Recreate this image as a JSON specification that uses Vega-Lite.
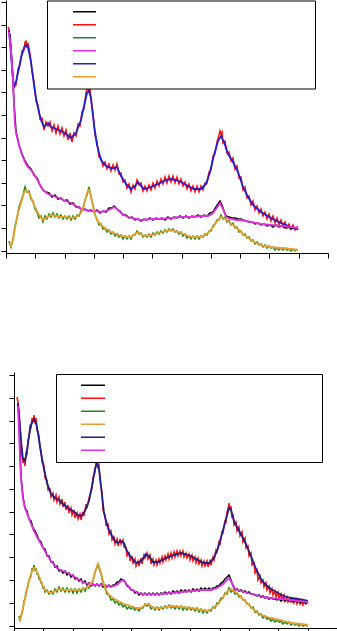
{
"$schema":"https://vega.github.io/schema/vega-lite/v6.json",
"background":"white",
"padding":0,
"spacing":113,
"config":{"view":{"stroke":null},"axis":{"grid":false,"labels":false,"title":null,"domainColor":"black","tickColor":"black","tickSize":5,"domainWidth":1,"tickWidth":1}},
"resolve":{"scale":{"color":"independent","x":"independent","y":"independent"},"legend":{"color":"independent"}},
"datasets":{
"top":[
{"s":"s5","x":3,"y":223},{"s":"s5","x":5,"y":198},{"s":"s5","x":7,"y":175},{"s":"s5","x":8,"y":167},{"s":"s5","x":10,"y":171},{"s":"s5","x":13,"y":185},{"s":"s5","x":15,"y":195},{"s":"s5","x":18,"y":205},{"s":"s5","x":20,"y":208},{"s":"s5","x":22,"y":206},{"s":"s5","x":25,"y":191},{"s":"s5","x":28,"y":168},{"s":"s5","x":30,"y":155},{"s":"s5","x":32,"y":145},{"s":"s5","x":35,"y":133},{"s":"s5","x":38,"y":126},{"s":"s5","x":40,"y":128},{"s":"s5","x":42,"y":130},{"s":"s5","x":45,"y":126},{"s":"s5","x":50,"y":124},{"s":"s5","x":55,"y":122},{"s":"s5","x":60,"y":119},{"s":"s5","x":65,"y":115},{"s":"s5","x":70,"y":120},{"s":"s5","x":75,"y":133},{"s":"s5","x":78,"y":147},{"s":"s5","x":81,"y":160},{"s":"s5","x":83,"y":162},{"s":"s5","x":85,"y":155},{"s":"s5","x":88,"y":128},{"s":"s5","x":91,"y":108},{"s":"s5","x":95,"y":93},{"s":"s5","x":100,"y":87},{"s":"s5","x":105,"y":85},{"s":"s5","x":108,"y":85},{"s":"s5","x":111,"y":86},{"s":"s5","x":115,"y":77},{"s":"s5","x":120,"y":69},{"s":"s5","x":125,"y":64},{"s":"s5","x":129,"y":67},{"s":"s5","x":132,"y":71},{"s":"s5","x":135,"y":67},{"s":"s5","x":138,"y":64},{"s":"s5","x":145,"y":66},{"s":"s5","x":152,"y":69},{"s":"s5","x":160,"y":73},{"s":"s5","x":165,"y":74},{"s":"s5","x":170,"y":73},{"s":"s5","x":175,"y":71},{"s":"s5","x":182,"y":67},{"s":"s5","x":188,"y":64},{"s":"s5","x":195,"y":64},{"s":"s5","x":200,"y":69},{"s":"s5","x":204,"y":81},{"s":"s5","x":208,"y":98},{"s":"s5","x":212,"y":112},{"s":"s5","x":215,"y":117},{"s":"s5","x":218,"y":111},{"s":"s5","x":222,"y":99},{"s":"s5","x":227,"y":91},{"s":"s5","x":232,"y":81},{"s":"s5","x":237,"y":66},{"s":"s5","x":242,"y":56},{"s":"s5","x":247,"y":48},{"s":"s5","x":255,"y":41},{"s":"s5","x":265,"y":35},{"s":"s5","x":275,"y":30},{"s":"s5","x":285,"y":26},{"s":"s5","x":292,"y":24},
{"s":"s2","x":2,"y":226},{"s":"s2","x":3,"y":224},{"s":"s2","x":5,"y":201},{"s":"s2","x":7,"y":172},{"s":"s2","x":8,"y":165},{"s":"s2","x":10,"y":168},{"s":"s2","x":12,"y":184},{"s":"s2","x":14,"y":188},{"s":"s2","x":16,"y":202},{"s":"s2","x":18,"y":203},{"s":"s2","x":19,"y":211},{"s":"s2","x":20,"y":212},{"s":"s2","x":21,"y":205},{"s":"s2","x":22,"y":210},{"s":"s2","x":24,"y":199},{"s":"s2","x":26,"y":182},{"s":"s2","x":28,"y":171},{"s":"s2","x":30,"y":152},{"s":"s2","x":32,"y":148},{"s":"s2","x":34,"y":134},{"s":"s2","x":36,"y":135},{"s":"s2","x":38,"y":123},{"s":"s2","x":40,"y":131},{"s":"s2","x":42,"y":127},{"s":"s2","x":44,"y":131},{"s":"s2","x":46,"y":122},{"s":"s2","x":48,"y":128},{"s":"s2","x":50,"y":120},{"s":"s2","x":52,"y":127},{"s":"s2","x":54,"y":119},{"s":"s2","x":56,"y":125},{"s":"s2","x":58,"y":117},{"s":"s2","x":60,"y":123},{"s":"s2","x":62,"y":113},{"s":"s2","x":64,"y":120},{"s":"s2","x":66,"y":111},{"s":"s2","x":68,"y":120},{"s":"s2","x":70,"y":117},{"s":"s2","x":72,"y":129},{"s":"s2","x":74,"y":127},{"s":"s2","x":76,"y":141},{"s":"s2","x":78,"y":144},{"s":"s2","x":80,"y":160},{"s":"s2","x":81,"y":164},{"s":"s2","x":82,"y":166},{"s":"s2","x":83,"y":160},{"s":"s2","x":84,"y":165},{"s":"s2","x":85,"y":153},{"s":"s2","x":87,"y":140},{"s":"s2","x":89,"y":118},{"s":"s2","x":91,"y":111},{"s":"s2","x":93,"y":96},{"s":"s2","x":95,"y":95},{"s":"s2","x":97,"y":87},{"s":"s2","x":99,"y":91},{"s":"s2","x":101,"y":84},{"s":"s2","x":103,"y":89},{"s":"s2","x":105,"y":82},{"s":"s2","x":107,"y":88},{"s":"s2","x":109,"y":83},{"s":"s2","x":111,"y":89},{"s":"s2","x":113,"y":79},{"s":"s2","x":115,"y":80},{"s":"s2","x":117,"y":71},{"s":"s2","x":119,"y":73},{"s":"s2","x":121,"y":65},{"s":"s2","x":123,"y":69},{"s":"s2","x":125,"y":61},{"s":"s2","x":127,"y":68},{"s":"s2","x":129,"y":64},{"s":"s2","x":131,"y":73},{"s":"s2","x":133,"y":68},{"s":"s2","x":135,"y":70},{"s":"s2","x":137,"y":62},{"s":"s2","x":139,"y":67},{"s":"s2","x":141,"y":62},{"s":"s2","x":143,"y":68},{"s":"s2","x":145,"y":63},{"s":"s2","x":147,"y":70},{"s":"s2","x":149,"y":65},{"s":"s2","x":151,"y":72},{"s":"s2","x":153,"y":67},{"s":"s2","x":155,"y":74},{"s":"s2","x":157,"y":69},{"s":"s2","x":159,"y":76},{"s":"s2","x":161,"y":70},{"s":"s2","x":163,"y":77},{"s":"s2","x":165,"y":71},{"s":"s2","x":167,"y":77},{"s":"s2","x":169,"y":70},{"s":"s2","x":171,"y":76},{"s":"s2","x":173,"y":69},{"s":"s2","x":175,"y":74},{"s":"s2","x":177,"y":67},{"s":"s2","x":179,"y":71},{"s":"s2","x":181,"y":64},{"s":"s2","x":183,"y":69},{"s":"s2","x":185,"y":62},{"s":"s2","x":187,"y":67},{"s":"s2","x":189,"y":61},{"s":"s2","x":191,"y":67},{"s":"s2","x":193,"y":61},{"s":"s2","x":195,"y":67},{"s":"s2","x":197,"y":63},{"s":"s2","x":199,"y":70},{"s":"s2","x":201,"y":70},{"s":"s2","x":203,"y":81},{"s":"s2","x":205,"y":83},{"s":"s2","x":207,"y":97},{"s":"s2","x":209,"y":99},{"s":"s2","x":211,"y":111},{"s":"s2","x":213,"y":118},{"s":"s2","x":214,"y":122},{"s":"s2","x":215,"y":119},{"s":"s2","x":216,"y":121},{"s":"s2","x":217,"y":110},{"s":"s2","x":219,"y":112},{"s":"s2","x":221,"y":100},{"s":"s2","x":223,"y":101},{"s":"s2","x":225,"y":92},{"s":"s2","x":227,"y":95},{"s":"s2","x":229,"y":84},{"s":"s2","x":231,"y":87},{"s":"s2","x":233,"y":75},{"s":"s2","x":235,"y":76},{"s":"s2","x":237,"y":63},{"s":"s2","x":239,"y":66},{"s":"s2","x":241,"y":55},{"s":"s2","x":243,"y":57},{"s":"s2","x":245,"y":48},{"s":"s2","x":247,"y":52},{"s":"s2","x":249,"y":43},{"s":"s2","x":251,"y":47},{"s":"s2","x":253,"y":40},{"s":"s2","x":255,"y":44},{"s":"s2","x":257,"y":37},{"s":"s2","x":259,"y":41},{"s":"s2","x":261,"y":34},{"s":"s2","x":263,"y":39},{"s":"s2","x":265,"y":32},{"s":"s2","x":267,"y":37},{"s":"s2","x":269,"y":30},{"s":"s2","x":271,"y":35},{"s":"s2","x":273,"y":28},{"s":"s2","x":275,"y":33},{"s":"s2","x":277,"y":27},{"s":"s2","x":279,"y":31},{"s":"s2","x":281,"y":25},{"s":"s2","x":283,"y":29},{"s":"s2","x":285,"y":24},{"s":"s2","x":287,"y":28},{"s":"s2","x":289,"y":23},{"s":"s2","x":291,"y":26},{"s":"s2","x":292,"y":23},
{"s":"s4","x":3,"y":221},{"s":"s4","x":5,"y":203},{"s":"s4","x":7,"y":173},{"s":"s4","x":8,"y":148},{"s":"s4","x":9,"y":128},{"s":"s4","x":10,"y":120},{"s":"s4","x":12,"y":112},{"s":"s4","x":15,"y":101},{"s":"s4","x":18,"y":93},{"s":"s4","x":21,"y":87},{"s":"s4","x":25,"y":83},{"s":"s4","x":28,"y":79},{"s":"s4","x":32,"y":72},{"s":"s4","x":35,"y":66},{"s":"s4","x":38,"y":62},{"s":"s4","x":42,"y":59},{"s":"s4","x":45,"y":58},{"s":"s4","x":50,"y":56},{"s":"s4","x":55,"y":54},{"s":"s4","x":60,"y":52},{"s":"s4","x":65,"y":50},{"s":"s4","x":70,"y":47},{"s":"s4","x":75,"y":44},{"s":"s4","x":80,"y":43},{"s":"s4","x":85,"y":42},{"s":"s4","x":90,"y":42},{"s":"s4","x":95,"y":41},{"s":"s4","x":100,"y":42},{"s":"s4","x":105,"y":44},{"s":"s4","x":108,"y":46},{"s":"s4","x":111,"y":44},{"s":"s4","x":115,"y":40},{"s":"s4","x":120,"y":37},{"s":"s4","x":125,"y":35},{"s":"s4","x":135,"y":33},{"s":"s4","x":145,"y":34},{"s":"s4","x":155,"y":34},{"s":"s4","x":165,"y":35},{"s":"s4","x":175,"y":36},{"s":"s4","x":185,"y":36},{"s":"s4","x":195,"y":37},{"s":"s4","x":202,"y":37},{"s":"s4","x":206,"y":39},{"s":"s4","x":210,"y":44},{"s":"s4","x":214,"y":50},{"s":"s4","x":217,"y":44},{"s":"s4","x":220,"y":36},{"s":"s4","x":225,"y":34},{"s":"s4","x":230,"y":33},{"s":"s4","x":235,"y":33},{"s":"s4","x":240,"y":32},{"s":"s4","x":245,"y":31},{"s":"s4","x":255,"y":29},{"s":"s4","x":265,"y":28},{"s":"s4","x":275,"y":27},{"s":"s4","x":285,"y":26},{"s":"s4","x":292,"y":25},
{"s":"s1","x":4,"y":219},{"s":"s1","x":6,"y":190},{"s":"s1","x":8,"y":150},{"s":"s1","x":10,"y":122},{"s":"s1","x":13,"y":108},{"s":"s1","x":16,"y":99},{"s":"s1","x":19,"y":92},{"s":"s1","x":22,"y":87},{"s":"s1","x":25,"y":84},{"s":"s1","x":28,"y":78},{"s":"s1","x":31,"y":75},{"s":"s1","x":34,"y":68},{"s":"s1","x":37,"y":63},{"s":"s1","x":40,"y":61},{"s":"s1","x":43,"y":60},{"s":"s1","x":46,"y":56},{"s":"s1","x":49,"y":58},{"s":"s1","x":52,"y":54},{"s":"s1","x":55,"y":55},{"s":"s1","x":58,"y":52},{"s":"s1","x":61,"y":53},{"s":"s1","x":64,"y":49},{"s":"s1","x":67,"y":50},{"s":"s1","x":70,"y":46},{"s":"s1","x":73,"y":46},{"s":"s1","x":76,"y":43},{"s":"s1","x":79,"y":44},{"s":"s1","x":82,"y":42},{"s":"s1","x":85,"y":43},{"s":"s1","x":88,"y":41},{"s":"s1","x":91,"y":43},{"s":"s1","x":94,"y":40},{"s":"s1","x":97,"y":42},{"s":"s1","x":100,"y":41},{"s":"s1","x":103,"y":45},{"s":"s1","x":106,"y":45},{"s":"s1","x":108,"y":47},{"s":"s1","x":111,"y":44},{"s":"s1","x":114,"y":42},{"s":"s1","x":117,"y":38},{"s":"s1","x":120,"y":38},{"s":"s1","x":123,"y":35},{"s":"s1","x":126,"y":36},{"s":"s1","x":129,"y":33},{"s":"s1","x":132,"y":34},{"s":"s1","x":135,"y":32},{"s":"s1","x":138,"y":34},{"s":"s1","x":141,"y":33},{"s":"s1","x":144,"y":35},{"s":"s1","x":147,"y":33},{"s":"s1","x":150,"y":35},{"s":"s1","x":153,"y":34},{"s":"s1","x":156,"y":35},{"s":"s1","x":159,"y":33},{"s":"s1","x":162,"y":36},{"s":"s1","x":165,"y":34},{"s":"s1","x":168,"y":36},{"s":"s1","x":171,"y":35},{"s":"s1","x":174,"y":37},{"s":"s1","x":177,"y":35},{"s":"s1","x":180,"y":37},{"s":"s1","x":183,"y":35},{"s":"s1","x":186,"y":37},{"s":"s1","x":189,"y":36},{"s":"s1","x":192,"y":38},{"s":"s1","x":195,"y":36},{"s":"s1","x":198,"y":38},{"s":"s1","x":201,"y":37},{"s":"s1","x":204,"y":40},{"s":"s1","x":207,"y":41},{"s":"s1","x":210,"y":46},{"s":"s1","x":212,"y":49},{"s":"s1","x":214,"y":52},{"s":"s1","x":216,"y":48},{"s":"s1","x":218,"y":42},{"s":"s1","x":220,"y":37},{"s":"s1","x":223,"y":36},{"s":"s1","x":226,"y":35},{"s":"s1","x":229,"y":35},{"s":"s1","x":232,"y":34},{"s":"s1","x":235,"y":34},{"s":"s1","x":237,"y":33},{"s":"s1","x":240,"y":32},{"s":"s1","x":243,"y":31},{"s":"s1","x":246,"y":31},{"s":"s1","x":249,"y":29},{"s":"s1","x":252,"y":30},{"s":"s1","x":255,"y":28},{"s":"s1","x":258,"y":29},{"s":"s1","x":261,"y":27},{"s":"s1","x":264,"y":28},{"s":"s1","x":267,"y":26},{"s":"s1","x":270,"y":28},{"s":"s1","x":273,"y":26},{"s":"s1","x":276,"y":27},{"s":"s1","x":279,"y":25},{"s":"s1","x":282,"y":26},{"s":"s1","x":285,"y":24},{"s":"s1","x":288,"y":25},{"s":"s1","x":291,"y":24},
{"s":"s6","x":3,"y":10},{"s":"s6","x":5,"y":7},{"s":"s6","x":7,"y":13},{"s":"s6","x":9,"y":25},{"s":"s6","x":12,"y":40},{"s":"s6","x":15,"y":50},{"s":"s6","x":18,"y":60},{"s":"s6","x":20,"y":63},{"s":"s6","x":23,"y":60},{"s":"s6","x":25,"y":56},{"s":"s6","x":28,"y":48},{"s":"s6","x":32,"y":40},{"s":"s6","x":35,"y":35},{"s":"s6","x":37,"y":33},{"s":"s6","x":40,"y":35},{"s":"s6","x":45,"y":38},{"s":"s6","x":50,"y":37},{"s":"s6","x":55,"y":36},{"s":"s6","x":60,"y":36},{"s":"s6","x":65,"y":35},{"s":"s6","x":70,"y":36},{"s":"s6","x":75,"y":40},{"s":"s6","x":78,"y":48},{"s":"s6","x":81,"y":60},{"s":"s6","x":83,"y":63},{"s":"s6","x":85,"y":57},{"s":"s6","x":88,"y":42},{"s":"s6","x":91,"y":33},{"s":"s6","x":95,"y":28},{"s":"s6","x":100,"y":24},{"s":"s6","x":105,"y":21},{"s":"s6","x":110,"y":19},{"s":"s6","x":115,"y":17},{"s":"s6","x":120,"y":16},{"s":"s6","x":125,"y":16},{"s":"s6","x":129,"y":19},{"s":"s6","x":132,"y":21},{"s":"s6","x":135,"y":19},{"s":"s6","x":138,"y":17},{"s":"s6","x":145,"y":18},{"s":"s6","x":152,"y":20},{"s":"s6","x":160,"y":22},{"s":"s6","x":165,"y":23},{"s":"s6","x":175,"y":20},{"s":"s6","x":185,"y":16},{"s":"s6","x":192,"y":16},{"s":"s6","x":198,"y":17},{"s":"s6","x":203,"y":21},{"s":"s6","x":208,"y":27},{"s":"s6","x":212,"y":33},{"s":"s6","x":215,"y":36},{"s":"s6","x":218,"y":35},{"s":"s6","x":222,"y":32},{"s":"s6","x":227,"y":28},{"s":"s6","x":232,"y":24},{"s":"s6","x":237,"y":19},{"s":"s6","x":245,"y":13},{"s":"s6","x":252,"y":9},{"s":"s6","x":258,"y":7},{"s":"s6","x":265,"y":6},{"s":"s6","x":275,"y":5},{"s":"s6","x":285,"y":4},{"s":"s6","x":292,"y":3},
{"s":"s3","x":3,"y":12},{"s":"s3","x":5,"y":6},{"s":"s3","x":7,"y":14},{"s":"s3","x":9,"y":27},{"s":"s3","x":11,"y":35},{"s":"s3","x":13,"y":46},{"s":"s3","x":15,"y":52},{"s":"s3","x":17,"y":58},{"s":"s3","x":19,"y":66},{"s":"s3","x":21,"y":61},{"s":"s3","x":23,"y":62},{"s":"s3","x":25,"y":54},{"s":"s3","x":27,"y":52},{"s":"s3","x":29,"y":44},{"s":"s3","x":31,"y":41},{"s":"s3","x":33,"y":35},{"s":"s3","x":35,"y":37},{"s":"s3","x":37,"y":31},{"s":"s3","x":39,"y":37},{"s":"s3","x":41,"y":34},{"s":"s3","x":43,"y":39},{"s":"s3","x":45,"y":36},{"s":"s3","x":47,"y":40},{"s":"s3","x":49,"y":36},{"s":"s3","x":51,"y":39},{"s":"s3","x":53,"y":35},{"s":"s3","x":55,"y":38},{"s":"s3","x":57,"y":34},{"s":"s3","x":59,"y":37},{"s":"s3","x":61,"y":34},{"s":"s3","x":63,"y":37},{"s":"s3","x":65,"y":33},{"s":"s3","x":67,"y":37},{"s":"s3","x":69,"y":34},{"s":"s3","x":71,"y":38},{"s":"s3","x":73,"y":37},{"s":"s3","x":75,"y":42},{"s":"s3","x":77,"y":44},{"s":"s3","x":79,"y":53},{"s":"s3","x":81,"y":58},{"s":"s3","x":83,"y":66},{"s":"s3","x":85,"y":56},{"s":"s3","x":87,"y":48},{"s":"s3","x":89,"y":38},{"s":"s3","x":91,"y":34},{"s":"s3","x":93,"y":28},{"s":"s3","x":95,"y":29},{"s":"s3","x":97,"y":24},{"s":"s3","x":99,"y":25},{"s":"s3","x":101,"y":21},{"s":"s3","x":103,"y":23},{"s":"s3","x":105,"y":19},{"s":"s3","x":107,"y":21},{"s":"s3","x":109,"y":17},{"s":"s3","x":111,"y":19},{"s":"s3","x":113,"y":16},{"s":"s3","x":115,"y":18},{"s":"s3","x":117,"y":14},{"s":"s3","x":119,"y":17},{"s":"s3","x":121,"y":14},{"s":"s3","x":123,"y":17},{"s":"s3","x":125,"y":14},{"s":"s3","x":127,"y":18},{"s":"s3","x":129,"y":18},{"s":"s3","x":131,"y":22},{"s":"s3","x":133,"y":19},{"s":"s3","x":135,"y":20},{"s":"s3","x":137,"y":16},{"s":"s3","x":139,"y":18},{"s":"s3","x":141,"y":16},{"s":"s3","x":143,"y":19},{"s":"s3","x":145,"y":16},{"s":"s3","x":147,"y":20},{"s":"s3","x":149,"y":18},{"s":"s3","x":151,"y":21},{"s":"s3","x":153,"y":19},{"s":"s3","x":155,"y":22},{"s":"s3","x":157,"y":20},{"s":"s3","x":159,"y":23},{"s":"s3","x":161,"y":21},{"s":"s3","x":163,"y":24},{"s":"s3","x":165,"y":22},{"s":"s3","x":167,"y":24},{"s":"s3","x":169,"y":21},{"s":"s3","x":171,"y":22},{"s":"s3","x":173,"y":19},{"s":"s3","x":175,"y":21},{"s":"s3","x":177,"y":17},{"s":"s3","x":179,"y":19},{"s":"s3","x":181,"y":15},{"s":"s3","x":183,"y":17},{"s":"s3","x":185,"y":14},{"s":"s3","x":187,"y":17},{"s":"s3","x":189,"y":14},{"s":"s3","x":191,"y":17},{"s":"s3","x":193,"y":14},{"s":"s3","x":195,"y":17},{"s":"s3","x":197,"y":16},{"s":"s3","x":199,"y":19},{"s":"s3","x":201,"y":18},{"s":"s3","x":203,"y":22},{"s":"s3","x":205,"y":22},{"s":"s3","x":207,"y":27},{"s":"s3","x":209,"y":29},{"s":"s3","x":211,"y":33},{"s":"s3","x":213,"y":33},{"s":"s3","x":215,"y":38},{"s":"s3","x":217,"y":34},{"s":"s3","x":219,"y":36},{"s":"s3","x":221,"y":31},{"s":"s3","x":223,"y":33},{"s":"s3","x":225,"y":28},{"s":"s3","x":227,"y":30},{"s":"s3","x":229,"y":25},{"s":"s3","x":231,"y":26},{"s":"s3","x":233,"y":21},{"s":"s3","x":235,"y":22},{"s":"s3","x":237,"y":18},{"s":"s3","x":239,"y":19},{"s":"s3","x":241,"y":15},{"s":"s3","x":243,"y":16},{"s":"s3","x":245,"y":12},{"s":"s3","x":247,"y":13},{"s":"s3","x":249,"y":9},{"s":"s3","x":251,"y":11},{"s":"s3","x":253,"y":8},{"s":"s3","x":255,"y":9},{"s":"s3","x":257,"y":6},{"s":"s3","x":259,"y":8},{"s":"s3","x":261,"y":5},{"s":"s3","x":263,"y":7},{"s":"s3","x":265,"y":5},{"s":"s3","x":267,"y":6},{"s":"s3","x":269,"y":3},{"s":"s3","x":271,"y":5},{"s":"s3","x":273,"y":3},{"s":"s3","x":275,"y":5},{"s":"s3","x":277,"y":3},{"s":"s3","x":279,"y":5},{"s":"s3","x":281,"y":3},{"s":"s3","x":283,"y":4},{"s":"s3","x":285,"y":2},{"s":"s3","x":287,"y":4},{"s":"s3","x":289,"y":2},{"s":"s3","x":291,"y":4}
],
"bot":[
{"s":"s5","x":4,"y":225},{"s":"s5","x":5,"y":215},{"s":"s5","x":7,"y":187},{"s":"s5","x":9,"y":169},{"s":"s5","x":11,"y":167},{"s":"s5","x":13,"y":177},{"s":"s5","x":15,"y":192},{"s":"s5","x":17,"y":203},{"s":"s5","x":20,"y":209},{"s":"s5","x":22,"y":206},{"s":"s5","x":24,"y":195},{"s":"s5","x":27,"y":175},{"s":"s5","x":30,"y":159},{"s":"s5","x":33,"y":145},{"s":"s5","x":37,"y":134},{"s":"s5","x":41,"y":130},{"s":"s5","x":45,"y":128},{"s":"s5","x":49,"y":124},{"s":"s5","x":54,"y":120},{"s":"s5","x":59,"y":117},{"s":"s5","x":64,"y":113},{"s":"s5","x":67,"y":112},{"s":"s5","x":71,"y":117},{"s":"s5","x":75,"y":127},{"s":"s5","x":78,"y":142},{"s":"s5","x":81,"y":159},{"s":"s5","x":83,"y":165},{"s":"s5","x":85,"y":159},{"s":"s5","x":87,"y":142},{"s":"s5","x":90,"y":115},{"s":"s5","x":94,"y":100},{"s":"s5","x":97,"y":94},{"s":"s5","x":101,"y":87},{"s":"s5","x":104,"y":85},{"s":"s5","x":107,"y":87},{"s":"s5","x":110,"y":85},{"s":"s5","x":113,"y":77},{"s":"s5","x":117,"y":71},{"s":"s5","x":121,"y":66},{"s":"s5","x":124,"y":65},{"s":"s5","x":128,"y":68},{"s":"s5","x":132,"y":74},{"s":"s5","x":135,"y":72},{"s":"s5","x":139,"y":66},{"s":"s5","x":144,"y":66},{"s":"s5","x":150,"y":69},{"s":"s5","x":157,"y":72},{"s":"s5","x":167,"y":75},{"s":"s5","x":177,"y":72},{"s":"s5","x":184,"y":68},{"s":"s5","x":190,"y":65},{"s":"s5","x":195,"y":65},{"s":"s5","x":200,"y":70},{"s":"s5","x":204,"y":80},{"s":"s5","x":208,"y":94},{"s":"s5","x":212,"y":109},{"s":"s5","x":215,"y":120},{"s":"s5","x":217,"y":118},{"s":"s5","x":220,"y":107},{"s":"s5","x":224,"y":99},{"s":"s5","x":228,"y":92},{"s":"s5","x":232,"y":84},{"s":"s5","x":237,"y":72},{"s":"s5","x":242,"y":59},{"s":"s5","x":247,"y":49},{"s":"s5","x":252,"y":43},{"s":"s5","x":257,"y":39},{"s":"s5","x":264,"y":35},{"s":"s5","x":270,"y":32},{"s":"s5","x":277,"y":30},{"s":"s5","x":284,"y":29},{"s":"s5","x":294,"y":27},
{"s":"s2","x":3,"y":231},{"s":"s2","x":4,"y":226},{"s":"s2","x":5,"y":214},{"s":"s2","x":6,"y":200},{"s":"s2","x":7,"y":190},{"s":"s2","x":8,"y":172},{"s":"s2","x":9,"y":165},{"s":"s2","x":10,"y":170},{"s":"s2","x":11,"y":162},{"s":"s2","x":12,"y":175},{"s":"s2","x":13,"y":174},{"s":"s2","x":14,"y":188},{"s":"s2","x":15,"y":190},{"s":"s2","x":16,"y":202},{"s":"s2","x":17,"y":201},{"s":"s2","x":18,"y":210},{"s":"s2","x":19,"y":206},{"s":"s2","x":20,"y":213},{"s":"s2","x":21,"y":204},{"s":"s2","x":22,"y":210},{"s":"s2","x":23,"y":198},{"s":"s2","x":25,"y":192},{"s":"s2","x":26,"y":180},{"s":"s2","x":27,"y":178},{"s":"s2","x":28,"y":166},{"s":"s2","x":30,"y":162},{"s":"s2","x":31,"y":150},{"s":"s2","x":33,"y":148},{"s":"s2","x":34,"y":138},{"s":"s2","x":36,"y":139},{"s":"s2","x":37,"y":131},{"s":"s2","x":39,"y":135},{"s":"s2","x":40,"y":128},{"s":"s2","x":42,"y":133},{"s":"s2","x":43,"y":126},{"s":"s2","x":45,"y":131},{"s":"s2","x":46,"y":124},{"s":"s2","x":48,"y":129},{"s":"s2","x":49,"y":121},{"s":"s2","x":51,"y":126},{"s":"s2","x":52,"y":118},{"s":"s2","x":54,"y":123},{"s":"s2","x":55,"y":115},{"s":"s2","x":57,"y":120},{"s":"s2","x":58,"y":113},{"s":"s2","x":60,"y":118},{"s":"s2","x":61,"y":110},{"s":"s2","x":63,"y":115},{"s":"s2","x":64,"y":109},{"s":"s2","x":66,"y":114},{"s":"s2","x":67,"y":108},{"s":"s2","x":69,"y":116},{"s":"s2","x":70,"y":112},{"s":"s2","x":72,"y":124},{"s":"s2","x":73,"y":120},{"s":"s2","x":75,"y":130},{"s":"s2","x":76,"y":133},{"s":"s2","x":78,"y":140},{"s":"s2","x":79,"y":150},{"s":"s2","x":81,"y":156},{"s":"s2","x":82,"y":166},{"s":"s2","x":83,"y":168},{"s":"s2","x":84,"y":161},{"s":"s2","x":85,"y":163},{"s":"s2","x":86,"y":148},{"s":"s2","x":88,"y":135},{"s":"s2","x":89,"y":118},{"s":"s2","x":91,"y":113},{"s":"s2","x":92,"y":103},{"s":"s2","x":94,"y":104},{"s":"s2","x":95,"y":94},{"s":"s2","x":97,"y":97},{"s":"s2","x":98,"y":88},{"s":"s2","x":100,"y":91},{"s":"s2","x":101,"y":84},{"s":"s2","x":103,"y":89},{"s":"s2","x":104,"y":82},{"s":"s2","x":106,"y":89},{"s":"s2","x":107,"y":84},{"s":"s2","x":109,"y":88},{"s":"s2","x":110,"y":81},{"s":"s2","x":112,"y":80},{"s":"s2","x":113,"y":72},{"s":"s2","x":115,"y":75},{"s":"s2","x":116,"y":67},{"s":"s2","x":118,"y":72},{"s":"s2","x":119,"y":64},{"s":"s2","x":121,"y":69},{"s":"s2","x":122,"y":62},{"s":"s2","x":124,"y":67},{"s":"s2","x":125,"y":62},{"s":"s2","x":127,"y":70},{"s":"s2","x":128,"y":64},{"s":"s2","x":130,"y":73},{"s":"s2","x":131,"y":70},{"s":"s2","x":133,"y":75},{"s":"s2","x":134,"y":69},{"s":"s2","x":136,"y":73},{"s":"s2","x":137,"y":64},{"s":"s2","x":139,"y":69},{"s":"s2","x":140,"y":63},{"s":"s2","x":142,"y":68},{"s":"s2","x":143,"y":63},{"s":"s2","x":145,"y":69},{"s":"s2","x":146,"y":65},{"s":"s2","x":148,"y":71},{"s":"s2","x":149,"y":66},{"s":"s2","x":151,"y":72},{"s":"s2","x":152,"y":68},{"s":"s2","x":154,"y":74},{"s":"s2","x":155,"y":69},{"s":"s2","x":157,"y":75},{"s":"s2","x":158,"y":70},{"s":"s2","x":160,"y":76},{"s":"s2","x":161,"y":71},{"s":"s2","x":163,"y":77},{"s":"s2","x":164,"y":72},{"s":"s2","x":166,"y":77},{"s":"s2","x":167,"y":72},{"s":"s2","x":169,"y":77},{"s":"s2","x":170,"y":71},{"s":"s2","x":172,"y":75},{"s":"s2","x":173,"y":70},{"s":"s2","x":175,"y":74},{"s":"s2","x":176,"y":68},{"s":"s2","x":178,"y":73},{"s":"s2","x":179,"y":67},{"s":"s2","x":181,"y":71},{"s":"s2","x":182,"y":65},{"s":"s2","x":184,"y":70},{"s":"s2","x":185,"y":64},{"s":"s2","x":187,"y":68},{"s":"s2","x":188,"y":62},{"s":"s2","x":190,"y":67},{"s":"s2","x":191,"y":62},{"s":"s2","x":193,"y":67},{"s":"s2","x":194,"y":61},{"s":"s2","x":196,"y":67},{"s":"s2","x":197,"y":63},{"s":"s2","x":199,"y":71},{"s":"s2","x":200,"y":68},{"s":"s2","x":202,"y":78},{"s":"s2","x":203,"y":76},{"s":"s2","x":205,"y":86},{"s":"s2","x":206,"y":84},{"s":"s2","x":208,"y":96},{"s":"s2","x":209,"y":95},{"s":"s2","x":211,"y":107},{"s":"s2","x":212,"y":106},{"s":"s2","x":213,"y":116},{"s":"s2","x":214,"y":119},{"s":"s2","x":215,"y":125},{"s":"s2","x":216,"y":118},{"s":"s2","x":217,"y":122},{"s":"s2","x":218,"y":110},{"s":"s2","x":219,"y":114},{"s":"s2","x":220,"y":103},{"s":"s2","x":222,"y":106},{"s":"s2","x":223,"y":97},{"s":"s2","x":225,"y":101},{"s":"s2","x":226,"y":92},{"s":"s2","x":228,"y":96},{"s":"s2","x":229,"y":86},{"s":"s2","x":231,"y":90},{"s":"s2","x":232,"y":80},{"s":"s2","x":234,"y":82},{"s":"s2","x":235,"y":72},{"s":"s2","x":237,"y":75},{"s":"s2","x":238,"y":63},{"s":"s2","x":240,"y":65},{"s":"s2","x":241,"y":55},{"s":"s2","x":243,"y":58},{"s":"s2","x":244,"y":48},{"s":"s2","x":246,"y":52},{"s":"s2","x":247,"y":45},{"s":"s2","x":249,"y":48},{"s":"s2","x":250,"y":41},{"s":"s2","x":252,"y":45},{"s":"s2","x":253,"y":38},{"s":"s2","x":255,"y":42},{"s":"s2","x":256,"y":35},{"s":"s2","x":258,"y":39},{"s":"s2","x":259,"y":33},{"s":"s2","x":261,"y":37},{"s":"s2","x":262,"y":31},{"s":"s2","x":264,"y":36},{"s":"s2","x":265,"y":30},{"s":"s2","x":267,"y":34},{"s":"s2","x":268,"y":28},{"s":"s2","x":270,"y":33},{"s":"s2","x":271,"y":27},{"s":"s2","x":273,"y":31},{"s":"s2","x":274,"y":26},{"s":"s2","x":276,"y":30},{"s":"s2","x":277,"y":26},{"s":"s2","x":279,"y":29},{"s":"s2","x":280,"y":25},{"s":"s2","x":282,"y":29},{"s":"s2","x":283,"y":24},{"s":"s2","x":285,"y":28},{"s":"s2","x":286,"y":24},{"s":"s2","x":288,"y":28},{"s":"s2","x":289,"y":23},{"s":"s2","x":291,"y":27},{"s":"s2","x":292,"y":24},{"s":"s2","x":294,"y":26},
{"s":"s6","x":4,"y":222},{"s":"s6","x":5,"y":197},{"s":"s6","x":6,"y":169},{"s":"s6","x":7,"y":149},{"s":"s6","x":9,"y":129},{"s":"s6","x":11,"y":120},{"s":"s6","x":14,"y":112},{"s":"s6","x":19,"y":99},{"s":"s6","x":23,"y":91},{"s":"s6","x":27,"y":84},{"s":"s6","x":32,"y":75},{"s":"s6","x":37,"y":67},{"s":"s6","x":41,"y":62},{"s":"s6","x":44,"y":59},{"s":"s6","x":49,"y":57},{"s":"s6","x":54,"y":55},{"s":"s6","x":59,"y":52},{"s":"s6","x":64,"y":49},{"s":"s6","x":69,"y":46},{"s":"s6","x":74,"y":44},{"s":"s6","x":80,"y":43},{"s":"s6","x":87,"y":43},{"s":"s6","x":94,"y":42},{"s":"s6","x":100,"y":42},{"s":"s6","x":104,"y":44},{"s":"s6","x":107,"y":47},{"s":"s6","x":110,"y":48},{"s":"s6","x":113,"y":43},{"s":"s6","x":117,"y":39},{"s":"s6","x":122,"y":36},{"s":"s6","x":127,"y":34},{"s":"s6","x":137,"y":34},{"s":"s6","x":147,"y":34},{"s":"s6","x":157,"y":35},{"s":"s6","x":167,"y":36},{"s":"s6","x":177,"y":37},{"s":"s6","x":187,"y":38},{"s":"s6","x":197,"y":38},{"s":"s6","x":203,"y":40},{"s":"s6","x":208,"y":43},{"s":"s6","x":212,"y":47},{"s":"s6","x":215,"y":50},{"s":"s6","x":218,"y":45},{"s":"s6","x":221,"y":39},{"s":"s6","x":227,"y":37},{"s":"s6","x":234,"y":35},{"s":"s6","x":242,"y":33},{"s":"s6","x":249,"y":31},{"s":"s6","x":257,"y":30},{"s":"s6","x":267,"y":29},{"s":"s6","x":277,"y":28},{"s":"s6","x":284,"y":27},{"s":"s6","x":294,"y":26},
{"s":"s1","x":4,"y":224},{"s":"s1","x":5,"y":205},{"s":"s1","x":6,"y":178},{"s":"s1","x":7,"y":152},{"s":"s1","x":9,"y":131},{"s":"s1","x":11,"y":120},{"s":"s1","x":13,"y":117},{"s":"s1","x":15,"y":109},{"s":"s1","x":17,"y":107},{"s":"s1","x":19,"y":100},{"s":"s1","x":21,"y":97},{"s":"s1","x":23,"y":93},{"s":"s1","x":25,"y":88},{"s":"s1","x":27,"y":86},{"s":"s1","x":29,"y":80},{"s":"s1","x":31,"y":79},{"s":"s1","x":33,"y":72},{"s":"s1","x":35,"y":72},{"s":"s1","x":37,"y":66},{"s":"s1","x":39,"y":66},{"s":"s1","x":41,"y":61},{"s":"s1","x":43,"y":62},{"s":"s1","x":45,"y":57},{"s":"s1","x":47,"y":58},{"s":"s1","x":49,"y":55},{"s":"s1","x":51,"y":57},{"s":"s1","x":53,"y":53},{"s":"s1","x":55,"y":55},{"s":"s1","x":57,"y":51},{"s":"s1","x":59,"y":53},{"s":"s1","x":61,"y":49},{"s":"s1","x":63,"y":50},{"s":"s1","x":65,"y":47},{"s":"s1","x":67,"y":49},{"s":"s1","x":69,"y":45},{"s":"s1","x":71,"y":47},{"s":"s1","x":73,"y":43},{"s":"s1","x":75,"y":45},{"s":"s1","x":77,"y":42},{"s":"s1","x":79,"y":44},{"s":"s1","x":81,"y":42},{"s":"s1","x":83,"y":44},{"s":"s1","x":85,"y":42},{"s":"s1","x":87,"y":44},{"s":"s1","x":89,"y":41},{"s":"s1","x":91,"y":43},{"s":"s1","x":93,"y":41},{"s":"s1","x":95,"y":43},{"s":"s1","x":97,"y":41},{"s":"s1","x":99,"y":43},{"s":"s1","x":101,"y":43},{"s":"s1","x":103,"y":46},{"s":"s1","x":105,"y":46},{"s":"s1","x":107,"y":49},{"s":"s1","x":109,"y":48},{"s":"s1","x":111,"y":46},{"s":"s1","x":113,"y":42},{"s":"s1","x":115,"y":41},{"s":"s1","x":117,"y":38},{"s":"s1","x":119,"y":38},{"s":"s1","x":121,"y":35},{"s":"s1","x":123,"y":36},{"s":"s1","x":125,"y":33},{"s":"s1","x":127,"y":35},{"s":"s1","x":129,"y":33},{"s":"s1","x":131,"y":35},{"s":"s1","x":133,"y":33},{"s":"s1","x":135,"y":35},{"s":"s1","x":137,"y":33},{"s":"s1","x":139,"y":35},{"s":"s1","x":141,"y":33},{"s":"s1","x":143,"y":35},{"s":"s1","x":145,"y":33},{"s":"s1","x":147,"y":35},{"s":"s1","x":149,"y":34},{"s":"s1","x":151,"y":36},{"s":"s1","x":153,"y":34},{"s":"s1","x":155,"y":36},{"s":"s1","x":157,"y":34},{"s":"s1","x":159,"y":37},{"s":"s1","x":161,"y":35},{"s":"s1","x":163,"y":37},{"s":"s1","x":165,"y":35},{"s":"s1","x":167,"y":38},{"s":"s1","x":169,"y":36},{"s":"s1","x":171,"y":38},{"s":"s1","x":173,"y":36},{"s":"s1","x":175,"y":38},{"s":"s1","x":177,"y":36},{"s":"s1","x":179,"y":39},{"s":"s1","x":181,"y":37},{"s":"s1","x":183,"y":39},{"s":"s1","x":185,"y":37},{"s":"s1","x":187,"y":40},{"s":"s1","x":189,"y":38},{"s":"s1","x":191,"y":40},{"s":"s1","x":193,"y":38},{"s":"s1","x":195,"y":40},{"s":"s1","x":197,"y":38},{"s":"s1","x":199,"y":40},{"s":"s1","x":201,"y":40},{"s":"s1","x":203,"y":42},{"s":"s1","x":205,"y":42},{"s":"s1","x":207,"y":45},{"s":"s1","x":209,"y":46},{"s":"s1","x":211,"y":49},{"s":"s1","x":213,"y":51},{"s":"s1","x":215,"y":53},{"s":"s1","x":217,"y":48},{"s":"s1","x":219,"y":42},{"s":"s1","x":221,"y":38},{"s":"s1","x":223,"y":39},{"s":"s1","x":225,"y":37},{"s":"s1","x":227,"y":38},{"s":"s1","x":229,"y":36},{"s":"s1","x":231,"y":37},{"s":"s1","x":233,"y":35},{"s":"s1","x":235,"y":36},{"s":"s1","x":237,"y":34},{"s":"s1","x":239,"y":34},{"s":"s1","x":241,"y":33},{"s":"s1","x":243,"y":32},{"s":"s1","x":245,"y":33},{"s":"s1","x":247,"y":31},{"s":"s1","x":249,"y":32},{"s":"s1","x":251,"y":30},{"s":"s1","x":253,"y":31},{"s":"s1","x":255,"y":29},{"s":"s1","x":257,"y":30},{"s":"s1","x":259,"y":29},{"s":"s1","x":261,"y":29},{"s":"s1","x":263,"y":28},{"s":"s1","x":265,"y":29},{"s":"s1","x":267,"y":27},{"s":"s1","x":269,"y":29},{"s":"s1","x":271,"y":27},{"s":"s1","x":273,"y":28},{"s":"s1","x":275,"y":27},{"s":"s1","x":277,"y":28},{"s":"s1","x":279,"y":26},{"s":"s1","x":281,"y":28},{"s":"s1","x":283,"y":26},{"s":"s1","x":285,"y":27},{"s":"s1","x":287,"y":25},{"s":"s1","x":289,"y":27},{"s":"s1","x":291,"y":25},{"s":"s1","x":294,"y":26},
{"s":"s4","x":5,"y":10},{"s":"s4","x":6,"y":8},{"s":"s4","x":8,"y":15},{"s":"s4","x":10,"y":25},{"s":"s4","x":12,"y":34},{"s":"s4","x":15,"y":47},{"s":"s4","x":18,"y":57},{"s":"s4","x":20,"y":60},{"s":"s4","x":22,"y":58},{"s":"s4","x":25,"y":52},{"s":"s4","x":28,"y":44},{"s":"s4","x":31,"y":38},{"s":"s4","x":34,"y":36},{"s":"s4","x":37,"y":35},{"s":"s4","x":41,"y":37},{"s":"s4","x":45,"y":39},{"s":"s4","x":51,"y":38},{"s":"s4","x":57,"y":38},{"s":"s4","x":64,"y":38},{"s":"s4","x":70,"y":39},{"s":"s4","x":75,"y":42},{"s":"s4","x":79,"y":48},{"s":"s4","x":82,"y":59},{"s":"s4","x":84,"y":64},{"s":"s4","x":86,"y":59},{"s":"s4","x":89,"y":47},{"s":"s4","x":92,"y":38},{"s":"s4","x":95,"y":33},{"s":"s4","x":99,"y":30},{"s":"s4","x":104,"y":27},{"s":"s4","x":110,"y":24},{"s":"s4","x":117,"y":22},{"s":"s4","x":122,"y":20},{"s":"s4","x":127,"y":20},{"s":"s4","x":131,"y":23},{"s":"s4","x":134,"y":24},{"s":"s4","x":137,"y":22},{"s":"s4","x":140,"y":20},{"s":"s4","x":147,"y":20},{"s":"s4","x":157,"y":22},{"s":"s4","x":167,"y":21},{"s":"s4","x":177,"y":20},{"s":"s4","x":187,"y":18},{"s":"s4","x":194,"y":17},{"s":"s4","x":199,"y":20},{"s":"s4","x":204,"y":24},{"s":"s4","x":208,"y":29},{"s":"s4","x":212,"y":35},{"s":"s4","x":215,"y":38},{"s":"s4","x":217,"y":39},{"s":"s4","x":220,"y":37},{"s":"s4","x":224,"y":34},{"s":"s4","x":229,"y":29},{"s":"s4","x":234,"y":24},{"s":"s4","x":239,"y":19},{"s":"s4","x":244,"y":15},{"s":"s4","x":250,"y":12},{"s":"s4","x":257,"y":10},{"s":"s4","x":267,"y":8},{"s":"s4","x":277,"y":5},{"s":"s4","x":287,"y":4},{"s":"s4","x":294,"y":3},
{"s":"s3","x":5,"y":12},{"s":"s3","x":6,"y":7},{"s":"s3","x":7,"y":12},{"s":"s3","x":8,"y":16},{"s":"s3","x":9,"y":19},{"s":"s3","x":10,"y":27},{"s":"s3","x":11,"y":29},{"s":"s3","x":12,"y":36},{"s":"s3","x":13,"y":38},{"s":"s3","x":15,"y":48},{"s":"s3","x":17,"y":52},{"s":"s3","x":18,"y":59},{"s":"s3","x":19,"y":58},{"s":"s3","x":20,"y":63},{"s":"s3","x":21,"y":57},{"s":"s3","x":22,"y":60},{"s":"s3","x":23,"y":54},{"s":"s3","x":24,"y":54},{"s":"s3","x":25,"y":49},{"s":"s3","x":26,"y":49},{"s":"s3","x":27,"y":45},{"s":"s3","x":28,"y":45},{"s":"s3","x":29,"y":40},{"s":"s3","x":30,"y":41},{"s":"s3","x":31,"y":36},{"s":"s3","x":33,"y":38},{"s":"s3","x":35,"y":34},{"s":"s3","x":37,"y":37},{"s":"s3","x":39,"y":34},{"s":"s3","x":41,"y":39},{"s":"s3","x":43,"y":36},{"s":"s3","x":45,"y":41},{"s":"s3","x":47,"y":37},{"s":"s3","x":49,"y":40},{"s":"s3","x":51,"y":36},{"s":"s3","x":53,"y":40},{"s":"s3","x":55,"y":36},{"s":"s3","x":57,"y":39},{"s":"s3","x":59,"y":35},{"s":"s3","x":61,"y":39},{"s":"s3","x":63,"y":35},{"s":"s3","x":65,"y":39},{"s":"s3","x":67,"y":36},{"s":"s3","x":69,"y":40},{"s":"s3","x":71,"y":37},{"s":"s3","x":73,"y":41},{"s":"s3","x":75,"y":40},{"s":"s3","x":77,"y":45},{"s":"s3","x":79,"y":47},{"s":"s3","x":81,"y":56},{"s":"s3","x":83,"y":61},{"s":"s3","x":84,"y":65},{"s":"s3","x":85,"y":60},{"s":"s3","x":87,"y":54},{"s":"s3","x":89,"y":45},{"s":"s3","x":91,"y":40},{"s":"s3","x":93,"y":34},{"s":"s3","x":95,"y":33},{"s":"s3","x":97,"y":28},{"s":"s3","x":99,"y":29},{"s":"s3","x":101,"y":25},{"s":"s3","x":103,"y":27},{"s":"s3","x":105,"y":23},{"s":"s3","x":107,"y":25},{"s":"s3","x":109,"y":21},{"s":"s3","x":111,"y":23},{"s":"s3","x":113,"y":19},{"s":"s3","x":115,"y":21},{"s":"s3","x":117,"y":19},{"s":"s3","x":119,"y":21},{"s":"s3","x":121,"y":18},{"s":"s3","x":123,"y":20},{"s":"s3","x":125,"y":17},{"s":"s3","x":127,"y":20},{"s":"s3","x":129,"y":20},{"s":"s3","x":131,"y":24},{"s":"s3","x":133,"y":22},{"s":"s3","x":135,"y":24},{"s":"s3","x":137,"y":19},{"s":"s3","x":139,"y":21},{"s":"s3","x":141,"y":18},{"s":"s3","x":143,"y":21},{"s":"s3","x":145,"y":18},{"s":"s3","x":147,"y":21},{"s":"s3","x":149,"y":19},{"s":"s3","x":151,"y":22},{"s":"s3","x":153,"y":20},{"s":"s3","x":155,"y":23},{"s":"s3","x":157,"y":20},{"s":"s3","x":159,"y":22},{"s":"s3","x":161,"y":19},{"s":"s3","x":163,"y":22},{"s":"s3","x":165,"y":19},{"s":"s3","x":167,"y":22},{"s":"s3","x":169,"y":18},{"s":"s3","x":171,"y":21},{"s":"s3","x":173,"y":18},{"s":"s3","x":175,"y":21},{"s":"s3","x":177,"y":18},{"s":"s3","x":179,"y":20},{"s":"s3","x":181,"y":17},{"s":"s3","x":183,"y":20},{"s":"s3","x":185,"y":16},{"s":"s3","x":187,"y":19},{"s":"s3","x":189,"y":15},{"s":"s3","x":191,"y":18},{"s":"s3","x":193,"y":15},{"s":"s3","x":195,"y":18},{"s":"s3","x":197,"y":17},{"s":"s3","x":199,"y":21},{"s":"s3","x":201,"y":20},{"s":"s3","x":203,"y":25},{"s":"s3","x":205,"y":25},{"s":"s3","x":207,"y":30},{"s":"s3","x":209,"y":30},{"s":"s3","x":211,"y":35},{"s":"s3","x":213,"y":34},{"s":"s3","x":215,"y":40},{"s":"s3","x":217,"y":36},{"s":"s3","x":219,"y":38},{"s":"s3","x":221,"y":34},{"s":"s3","x":223,"y":35},{"s":"s3","x":225,"y":31},{"s":"s3","x":227,"y":32},{"s":"s3","x":229,"y":28},{"s":"s3","x":231,"y":28},{"s":"s3","x":233,"y":24},{"s":"s3","x":235,"y":24},{"s":"s3","x":237,"y":20},{"s":"s3","x":239,"y":21},{"s":"s3","x":241,"y":16},{"s":"s3","x":243,"y":17},{"s":"s3","x":245,"y":13},{"s":"s3","x":247,"y":14},{"s":"s3","x":249,"y":10},{"s":"s3","x":251,"y":12},{"s":"s3","x":253,"y":9},{"s":"s3","x":255,"y":10},{"s":"s3","x":257,"y":7},{"s":"s3","x":259,"y":9},{"s":"s3","x":261,"y":6},{"s":"s3","x":263,"y":8},{"s":"s3","x":265,"y":6},{"s":"s3","x":267,"y":7},{"s":"s3","x":269,"y":4},{"s":"s3","x":271,"y":6},{"s":"s3","x":273,"y":4},{"s":"s3","x":275,"y":6},{"s":"s3","x":277,"y":3},{"s":"s3","x":279,"y":5},{"s":"s3","x":281,"y":3},{"s":"s3","x":283,"y":4},{"s":"s3","x":285,"y":2},{"s":"s3","x":287,"y":4},{"s":"s3","x":289,"y":2},{"s":"s3","x":291,"y":3},{"s":"s3","x":294,"y":2}
]},
"vconcat":[
{"width":314,"height":253,"data":{"name":"top"},
"encoding":{
"x":{"field":"x","type":"quantitative","scale":{"domain":[0,322],"range":[-8,314],"nice":false,"zero":false},"axis":{"values":[0,29.27,58.54,87.81,117.08,146.35,175.62,204.89,234.16,263.43,292.7,321.97]}},
"y":{"field":"y","type":"quantitative","scale":{"domain":[0,253],"nice":false,"zero":false},"axis":{"values":[2.5,25.1,47.7,70.3,92.9,115.5,138.1,160.7,183.3,205.9,228.5,251.1],"offset":8}},
"color":{"field":"s","type":"nominal","scale":{"domain":["s1","s2","s3","s4","s5","s6"],"range":["#000000","#ff1010","#1a8a1a","#e030e0","#2020d0","#e8a030"]},
"legend":{"orient":"none","legendX":33,"legendY":0.5,"title":null,"symbolType":"stroke","symbolSize":529,"symbolStrokeWidth":1.5,"clipHeight":12.5,"rowPadding":0,"padding":5,"symbolOffset":20,"labelOffset":213,"labelExpr":"''","strokeColor":"black","fillColor":"white"}}},
"layer":[
{"transform":[{"filter":{"field":"s","oneOf":["s1","s2","s3"]}}],"mark":{"type":"line","strokeWidth":1.5}},
{"transform":[{"filter":{"field":"s","oneOf":["s4","s5","s6"]}}],"mark":{"type":"line","strokeWidth":1.8}}
]},
{"width":323,"height":256,"data":{"name":"bot"},
"encoding":{
"x":{"field":"x","type":"quantitative","scale":{"domain":[0,323],"nice":false,"zero":false},"axis":{"values":[0,29.36,58.72,88.08,117.44,146.8,176.16,205.52,234.88,264.24,293.6,322.96]}},
"y":{"field":"y","type":"quantitative","scale":{"domain":[0,256],"nice":false,"zero":false},"axis":{"values":[2.5,25.27,48.04,70.81,93.58,116.35,139.12,161.89,184.66,207.43,230.2,252.97],"minExtent":13}},
"color":{"field":"s","type":"nominal","scale":{"domain":["s1","s2","s3","s4","s5","s6"],"range":["#000000","#ff1010","#1a8a1a","#e8a030","#20208a","#e030e0"]},
"legend":{"orient":"none","legendX":42,"legendY":2,"title":null,"symbolType":"stroke","symbolSize":576,"symbolStrokeWidth":1.5,"clipHeight":12.4,"rowPadding":0,"padding":5,"symbolOffset":19,"labelOffset":211,"labelExpr":"''","strokeColor":"black","fillColor":"white"}}},
"layer":[
{"transform":[{"filter":{"field":"s","oneOf":["s1","s2","s3"]}}],"mark":{"type":"line","strokeWidth":1.5}},
{"transform":[{"filter":{"field":"s","oneOf":["s4","s5","s6"]}}],"mark":{"type":"line","strokeWidth":1.8}}
]}
]}
